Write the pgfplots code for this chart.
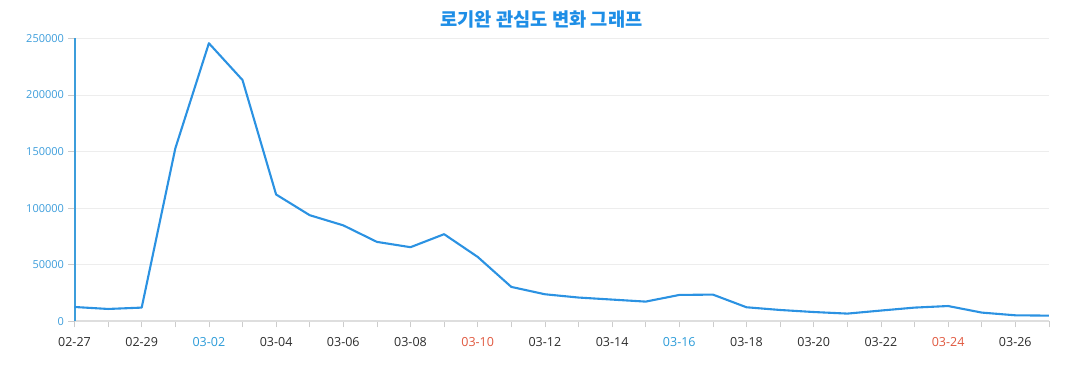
\documentclass[border=0pt]{standalone}
\usepackage{pgfplots}
\pgfplotsset{compat=1.18}
\usepackage{fontspec}
\setmainfont{Open Sans}
\newfontfamily\cjk{Noto Sans CJK KR}
\definecolor{linec}{RGB}{43,146,226}
\definecolor{titlec}{RGB}{30,142,230}
\definecolor{ylab}{RGB}{60,157,219}
\definecolor{satc}{RGB}{43,155,216}
\definecolor{sunc}{RGB}{224,88,63}
\definecolor{xlab}{RGB}{45,45,45}
\pgfplotstableread{
i v
0 12650
1 10900
2 12100
3 152800
4 245800
5 213300
6 112100
7 93800
8 84800
9 70200
10 65500
11 77000
12 56900
13 30400
14 23900
15 21000
16 19200
17 17400
18 23300
19 23600
20 12400
21 10000
22 8200
23 6800
24 9500
25 12100
26 13500
27 7700
28 5300
29 5000
}\datatable
\begin{document}
\begin{tikzpicture}
\useasboundingbox (0pt,0pt) rectangle (1077pt,390pt);
\begin{axis}[
  at={(74.5pt,68.7pt)}, anchor=south west,
  scale only axis, width=974.4pt, height=282.8pt,
  xmin=0, xmax=29, ymin=0, ymax=250000,
  axis lines=left,
  axis line style={-},
  x axis line style={draw=black!13, line width=2pt},
  y axis line style={draw=ylab, line width=2pt},
  xtick={0,...,29},
  xticklabels={02-27,,02-29,,{\color{satc}03-02},,03-04,,03-06,,03-08,,{\color{sunc}03-10},,03-12,,03-14,,{\color{satc}03-16},,03-18,,03-20,,03-22,,{\color{sunc}03-24},,03-26,},
  ytick={0,50000,100000,150000,200000,250000},
  scaled y ticks=false,
  tick align=outside,
  major tick length=6pt,
  tick style={draw=black!20, line width=0.8pt},
  ymajorgrids, grid style={draw=black!7, line width=0.8pt},
  xticklabel style={font=\fontsize{12.5}{14}\selectfont, text=xlab, yshift=-6.5pt},
  yticklabel style={font=\fontsize{11}{13}\selectfont, text=ylab, xshift=-1pt,
    /pgf/number format/fixed, /pgf/number format/1000 sep={}},
  /pgf/number format/assume math mode=true,
  clip=false,
]
\addplot[linec, line width=2.1pt, line join=round, mark=none] table[x=i, y=v] {\datatable};
\end{axis}
\node[text=titlec, font=\cjk\bfseries\fontsize{18.7}{22}\selectfont] at (541.5pt,370pt) {로기완 관심도 변화 그래프};
\end{tikzpicture}
\end{document}
